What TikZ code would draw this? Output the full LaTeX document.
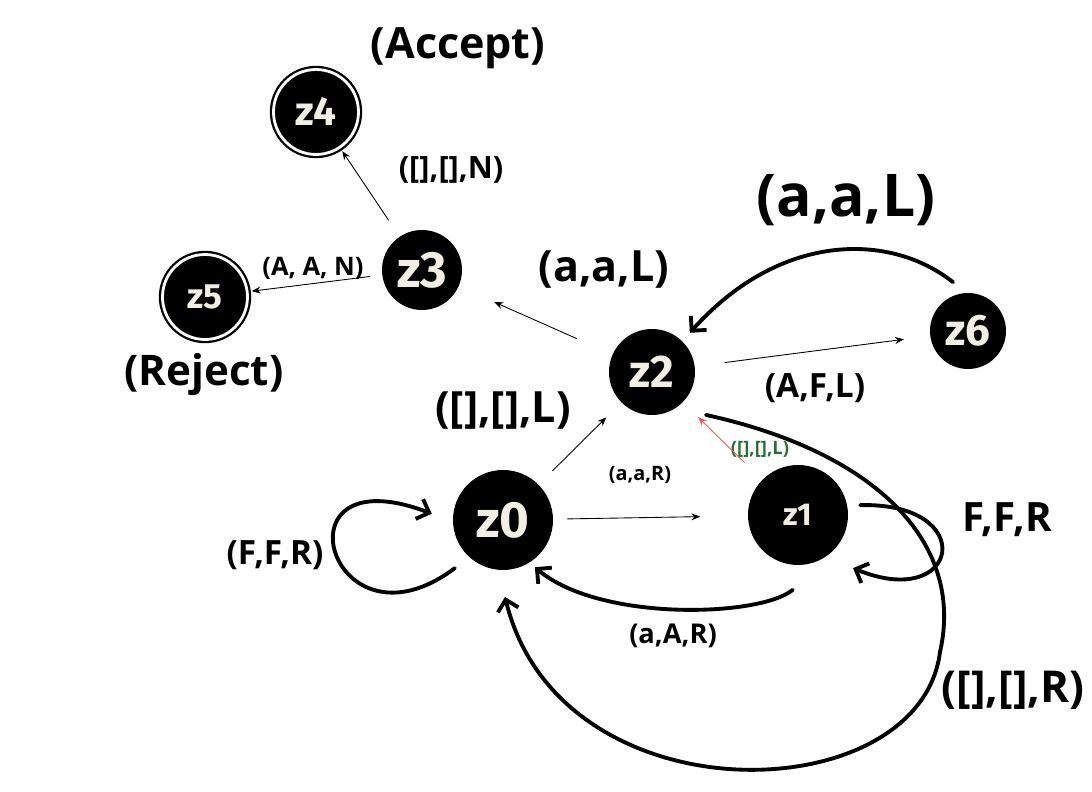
\documentclass[tikz,border=0pt]{standalone}
\usepackage{fontspec}
\setmainfont{Open Sans}
\newfontfamily\etatfont{Fira Sans}
\usetikzlibrary{arrows.meta,calc}

\newcommand{\taille}[1]{\fontsize{#1}{#1}\selectfont\bfseries}

\tikzset{
  etat/.style={circle, fill=black, text=creme, inner sep=0pt},
  final/.style={etat, draw=black, double=white, double distance=1.6pt, line width=1.3pt},
  fleche/.style={-{Stealth[length=5pt,width=4pt]}, line width=0.5pt},
  trait/.style={line width=2.2pt, line join=round, line cap=round, -{Straight Barb[length=6pt,width=12pt]}},
}

\begin{document}
\begin{tikzpicture}
  % Définir les couleurs du schéma
  \definecolor{creme}{RGB}{243,238,227}
  \definecolor{vertlbl}{RGB}{40,110,50}
  \definecolor{rougefl}{RGB}{240,90,90}

  \useasboundingbox (0,0) rectangle (21.84,15.84);

  % Dessiner les états
  \node[final, minimum size=1.7cm, font=\etatfont\taille{23}] at (6.32,13.60) (z4) {z4};
  \node[final, minimum size=1.7cm, font=\etatfont\taille{20}] at (4.10,9.90) (z5) {z5};
  \node[etat, minimum size=1.6cm, font=\etatfont\taille{29}] at (8.44,10.44) (z3) {z3};
  \node[etat, minimum size=1.72cm, font=\etatfont\taille{26}] at (13.04,8.40) (z2) {z2};
  \node[etat, minimum size=1.52cm, font=\etatfont\taille{25}] at (19.36,9.22) (z6) {z6};
  \node[etat, minimum size=2cm, font=\etatfont\taille{29}] at (10.06,5.44) (z0) {z0};
  \node[etat, minimum size=2cm, font=\etatfont\taille{18}] at (15.96,5.54) (z1) {z1};

  % Ajouter les étiquettes
  \node[font=\taille{24.5}] at (9.16,14.88) (accept) {(Accept)};
  \node[font=\taille{24}] at (4.08,8.34) (reject) {(Reject)};
  \node[font=\taille{17.5}] at (9.02,12.44) (lz3z4) {([],[],N)};
  \node[font=\taille{14.5}] at (6.26,10.48) (lz3z5) {(A, A, N)};
  \node[font=\taille{24.5}] at (12.08,10.44) (lz2z3) {(a,a,L)};
  \node[font=\taille{33.5}] at (16.92,11.84) (lz6z2) {(a,a,L)};
  \node[font=\taille{19}] at (16.30,8.08) (lz2z6) {(A,F,L)};
  \node[font=\taille{24.5}] at (10.06,7.62) (lz0z2) {([],[],L)};
  \node[font=\taille{10.5}, text=vertlbl] at (15.20,6.86) (lz1z2) {([],[],L)};
  \node[font=\taille{11.3}] at (12.80,6.34) (lz0z1) {(a,a,R)};
  \node[font=\taille{19}] at (5.50,4.74) (lz0z0) {(F,F,R)};
  \node[font=\taille{23}] at (20.14,5.44) (lz1z1) {F,F,R};
  \node[font=\taille{15.5}] at (13.46,3.12) (lz1z0) {(a,A,R)};
  \node[font=\taille{25}] at (20.26,2.04) (lz2z0) {([],[],R)};

  % Dessiner les flèches fines
  \draw[fleche, shorten <=11pt, shorten >=12pt] (z0) -- (z2);
  \draw[fleche, shorten <=8pt, shorten >=27pt] (z0) -- (z1);
  \draw[fleche, rougefl, shorten <=14pt, shorten >=12pt] (z1) -- (z2);
  \draw[fleche, shorten <=17pt, shorten >=15pt] (z2) -- (z6);
  \draw[fleche, shorten <=22pt, shorten >=22pt] (z2) -- (z3);
  \draw[fleche, shorten <=11pt, shorten >=2pt] (z3) -- (z4);
  \draw[fleche, shorten <=7pt, shorten >=2pt] (z3) -- (z5);

  % Dessiner les flèches à main levée
  \draw[trait] ($(z6)+(107:1.02)$) .. controls (17.8,11.2) and (15.6,11.2) .. ($(z2)+(46:1.09)$);
  \draw[trait] ($(z1)+(9:1.26)$) .. controls (19.6,5.8) and (19.2,3.6) .. ($(z1)+(-44:1.53)$);
  \draw[trait] ($(z0)+(225:1.36)$) .. controls (6.6,2.6) and (5.4,6.8) .. ($(z0)+(175:1.43)$);
  \draw[trait] ($(z1)+(266:1.5)$) .. controls (15.2,3.5) and (12.0,3.4) .. ($(z0)+(-56:1.14)$);

  % La grande boucle de z2 vers z0
  \coordinate (milieu) at (18.8,2.8);
  \draw[trait] ($(z2)+(-38.5:1.38)$) .. controls (17.5,6.8) and (19.3,5.0) .. (milieu)
    .. controls (18.4,-0.4) and (11.2,-0.6) .. ($(z0)+(-88.5:1.54)$);
\end{tikzpicture}
\end{document}
